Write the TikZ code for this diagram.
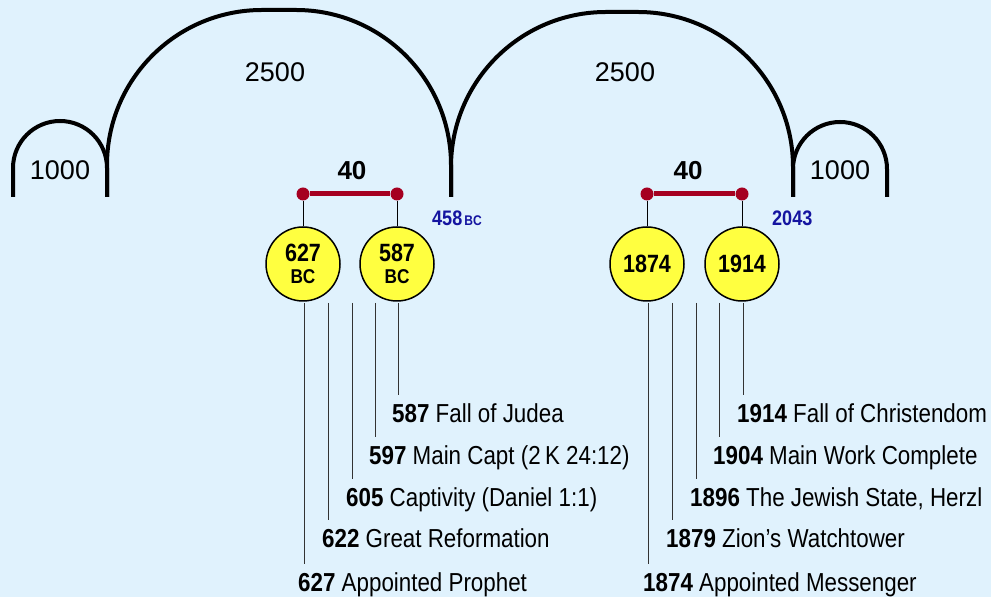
\documentclass[tikz,border=0pt]{standalone}
\usepackage{fontspec}
\setmainfont{Liberation Sans}
\newfontfamily\schmal{Liberation Sans}[FakeStretch=0.86]
\definecolor{hintergrund}{RGB}{224,242,253}
\definecolor{balken}{RGB}{165,0,33}
\definecolor{jahrblau}{RGB}{20,20,160}
\definecolor{kreisgelb}{RGB}{255,255,64}

\begin{document}
\begin{tikzpicture}[x=1pt, y=1pt,
    bogen/.style={line width=4pt, line join=round},
    zahl/.style={inner sep=0pt, font=\fontsize{27}{30}\selectfont},
    spanne/.style={inner sep=0pt, font=\bfseries\fontsize{26}{30}\selectfont},
    punkt/.style={fill=balken, shape=circle, minimum size=13pt, inner sep=0pt},
    kreis/.style={draw=black, line width=1.5pt, fill=kreisgelb, shape=circle, minimum size=74pt, inner sep=0pt, align=center, font=\schmal\bfseries\fontsize{25}{22}\selectfont},
    marke/.style={anchor=base west, inner sep=0pt, text=jahrblau, font=\schmal\bfseries\fontsize{21}{24}\selectfont},
    ereignis/.style={anchor=west, inner xsep=0pt, inner ysep=8pt, text height=19pt, text depth=5pt, font=\schmal\fontsize{26}{30}\selectfont},
    strich/.style={draw=black!80, line width=1pt}
]
% --- Hintergrund ---
\useasboundingbox (0,0) rectangle (991,597);
\fill[hintergrund] (0,0) rectangle (991,597);

% --- Boegen ---
\draw[bogen] (13,400) -- (13,429) arc[start angle=180, end angle=0, radius=47] -- (107,400);   % kleiner Bogen links
\draw[bogen] (107,400) -- (107,432) arc[start angle=180, end angle=90, radius=155] -- (296,587)
    arc[start angle=90, end angle=0, radius=155] -- (451,400);                                 % grosser Bogen links
\draw[bogen] (451,400) -- (451,430) arc[start angle=180, end angle=90, radius=155] -- (638,585)
    arc[start angle=90, end angle=0, radius=155] -- (793,400);                                 % grosser Bogen rechts
\draw[bogen] (793,400) -- (793,428) arc[start angle=180, end angle=0, radius=47] -- (887,400); % kleiner Bogen rechts

% --- Zahlen in den Boegen ---
\node[zahl] (tausendL) at (60,427) {1000};
\node[zahl] (zweiL) at (275,525) {2500};
\node[zahl] (zweiR) at (625,525) {2500};
\node[zahl] (tausendR) at (840,427) {1000};

% --- Endmarken ---
\node[marke] (m458) at (432,371) {458\kern2pt{\fontsize{14}{14}\selectfont BC}};
\node[marke] (m2043) at (772,371) {2043};

% --- 40 Jahre links ---
\node[spanne] (vierzigL) at (352,426) {40};
\node[punkt] (p627) at (303,403) {};
\node[punkt] (p587) at (397,403) {};
\draw[balken, line width=5pt] (p627) -- (p587);
\node[kreis] (k627) at (303,333) {627\\{\fontsize{20}{22}\selectfont BC}};
\node[kreis] (k587) at (397,333) {587\\{\fontsize{20}{22}\selectfont BC}};
\draw (p627) -- (k627);
\draw (p587) -- (k587);

% --- 40 Jahre rechts ---
\node[spanne] (vierzigR) at (688,426) {40};
\node[punkt] (p1874) at (647,403) {};
\node[punkt] (p1914) at (742,403) {};
\draw[balken, line width=5pt] (p1874) -- (p1914);
\node[kreis] (k1874) at (647,333) {1874};
\node[kreis] (k1914) at (742,333) {1914};
\draw (p1874) -- (k1874);
\draw (p1914) -- (k1914);

% --- Ereignisse links ---
\node[ereignis] (e587) at (392,181.5) {\textbf{587} Fall of Judea};
\node[ereignis] (e597) at (369,139.5) {\textbf{597} Main Capt (2\,K 24:12)};
\node[ereignis] (e605) at (346,97.5) {\textbf{605} Captivity (Daniel 1:1)};
\node[ereignis] (e622) at (322,56.5) {\textbf{622} Great Reformation};
\node[ereignis] (e627) at (298,12.5) {\textbf{627} Appointed Prophet};
\coordinate (s587) at (398,294);
\coordinate (s597) at (375,294);
\coordinate (s605) at (352,294);
\coordinate (s622) at (328,294);
\coordinate (s627) at (304,294);
\draw[strich] (s587) -- (s587 |- e587.north);
\draw[strich] (s597) -- (s597 |- e597.north);
\draw[strich] (s605) -- (s605 |- e605.north);
\draw[strich] (s622) -- (s622 |- e622.north);
\draw[strich] (s627) -- (s627 |- e627.north);

% --- Ereignisse rechts ---
\node[ereignis] (e1914) at (737,181.5) {\textbf{1914} Fall of Christendom};
\node[ereignis] (e1904) at (713,139.5) {\textbf{1904} Main Work Complete};
\node[ereignis] (e1896) at (690,97.5) {\textbf{1896} The Jewish State, Herzl};
\node[ereignis] (e1879) at (666,56.5) {\textbf{1879} Zion’s Watchtower};
\node[ereignis] (e1874) at (643,12.5) {\textbf{1874} Appointed Messenger};
\coordinate (s1914) at (743,294);
\coordinate (s1904) at (719,294);
\coordinate (s1896) at (696,294);
\coordinate (s1879) at (672,294);
\coordinate (s1874) at (648,294);
\draw[strich] (s1914) -- (s1914 |- e1914.north);
\draw[strich] (s1904) -- (s1904 |- e1904.north);
\draw[strich] (s1896) -- (s1896 |- e1896.north);
\draw[strich] (s1879) -- (s1879 |- e1879.north);
\draw[strich] (s1874) -- (s1874 |- e1874.north);
\end{tikzpicture}
\end{document}
